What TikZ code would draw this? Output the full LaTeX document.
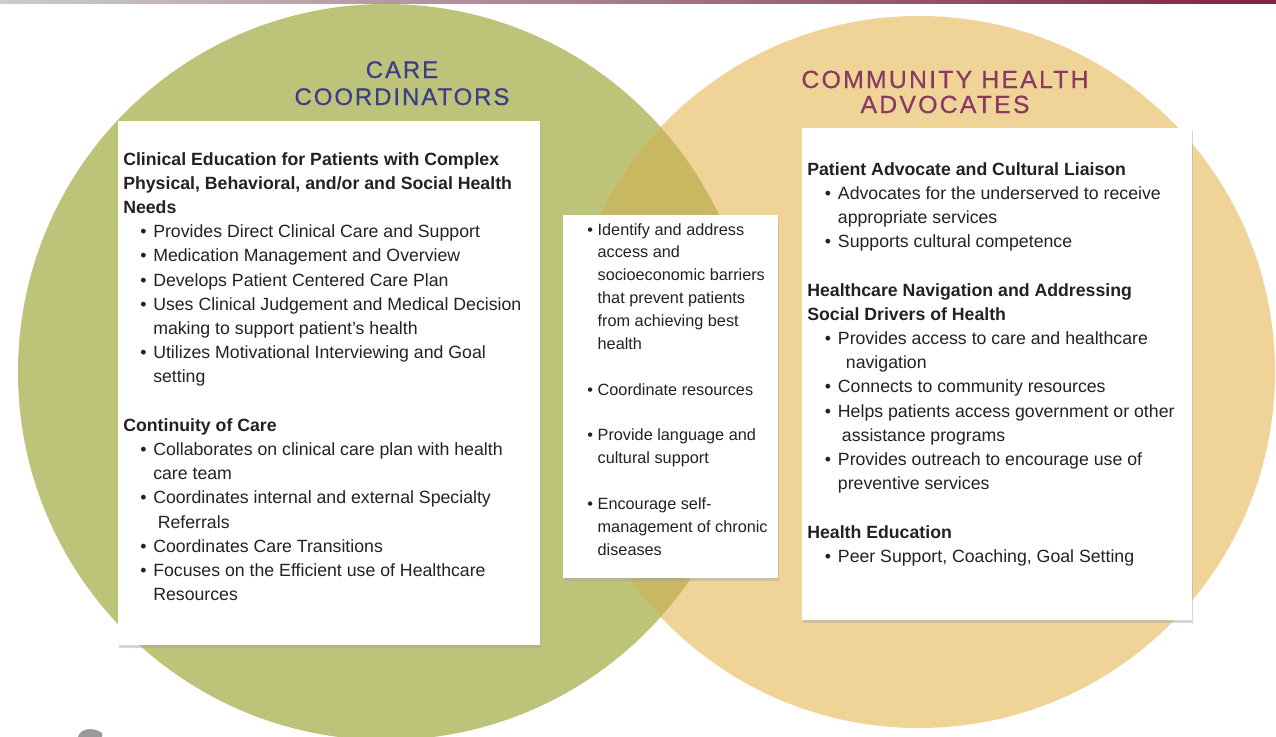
\documentclass[tikz,border=0pt]{standalone}
\usepackage{fontspec}
\setmainfont{Liberation Sans}
\newfontfamily\titlefontA{Liberation Sans}[LetterSpace=8,FakeBold=0.5]
\newfontfamily\titlefontB{Liberation Sans}[LetterSpace=9,FakeBold=0.5]
\definecolor{cgreen}{HTML}{BDC378}
\definecolor{corange}{HTML}{F0D396}
\definecolor{coverlap}{HTML}{C8B862}
\definecolor{tblue}{HTML}{3B3C8A}
\definecolor{tmaroon}{HTML}{8A3A62}
\definecolor{txt}{HTML}{222222}
\definecolor{topline}{HTML}{7F2343}
\newcommand\bodyfont{\fontsize{13.28pt}{18.15pt}\selectfont}
\newcommand\midfont{\fontsize{12.2pt}{17.15pt}\selectfont}
\newlength\bulind \newlength\txtind
\newcommand\bitem[1]{\par\hangindent=\txtind\hangafter=1\noindent\hspace*{\bulind}\makebox[\dimexpr\txtind-\bulind\relax][l]{\textbullet}#1\par}
\newcommand\hd[1]{\par\noindent\textbf{#1}\par}
\newcommand\gap{\par\vskip\baselineskip}
\tikzset{
  blk/.style={anchor=base west, inner sep=0pt, text=txt},
  ttl/.style={anchor=base, inner sep=0pt},
  shadowbox/.style={fill=black!35, opacity=0.45},
  whitebox/.style={fill=white}
}
\begin{document}
\begin{tikzpicture}[x=0.75pt,y=-0.75pt]
\path[use as bounding box] (0,0) rectangle (1276,736);
\begin{scope}
\clip (0,0) rectangle (1276,736);
\fill[white] (0,0) rectangle (1276,736);
% top line
\shade[left color=black!20, right color=topline] (0,0) rectangle (1276,3);
% circles
\fill[cgreen] (386,372) circle [radius=276pt];
\fill[corange] (919,372) circle [radius=267pt];
\begin{scope}
\clip (386,372) circle [radius=276pt];
\fill[coverlap] (919,372) circle [radius=267pt];
\end{scope}
% small grey shape bottom left
\fill[black!40] (78,737) .. controls (80,729) and (92,726) .. (102,733) -- (102,737) -- cycle;
% boxes
\fill[shadowbox] (119,123) rectangle (541,647.5);
\fill[whitebox] (118,121) rectangle (540,645);
\fill[shadowbox] (564,217) rectangle (779,580.5);
\fill[whitebox] (563,215) rectangle (778,578);
\fill[shadowbox] (803,130) rectangle (1193,622.5);
\fill[whitebox] (802,128) rectangle (1192,620);
\end{scope}
% titles
\node[ttl, text=tblue] (titleA) at (402,78) {\begin{minipage}[t]{300pt}\titlefontA\fontsize{18pt}{20.25pt}\selectfont\centering CARE\\COORDINATORS\end{minipage}};
\node[ttl, text=tmaroon] (titleB) at (945,88) {\begin{minipage}[t]{300pt}\titlefontB\fontsize{18.6pt}{18.75pt}\selectfont\centering COMMUNITY HEALTH\\ADVOCATES\end{minipage}};
% left block
\node[blk] (left) at (123,165) {\begin{minipage}[t]{330pt}\bodyfont\setlength\bulind{12.75pt}\setlength\txtind{22.5pt}%
\hd{Clinical Education for Patients with Complex\\Physical, Behavioral, and/or and Social Health\\Needs}
\bitem{Provides Direct Clinical Care and Support}
\bitem{Medication Management and Overview}
\bitem{Develops Patient Centered Care Plan}
\bitem{Uses Clinical Judgement and Medical Decision\\making to support patient's health}
\bitem{Utilizes Motivational Interviewing and Goal\\setting}
\gap
\hd{Continuity of Care}
\bitem{Collaborates on clinical care plan with health\\care team}
\bitem{Coordinates internal and external Specialty\\\hspace*{3.4pt}Referrals}
\bitem{Coordinates Care Transitions}
\bitem{Focuses on the Efficient use of Healthcare\\Resources}
\end{minipage}};
% middle block
\node[blk] (middle) at (587,235) {\begin{minipage}[t]{170pt}\midfont\setlength\bulind{0pt}\setlength\txtind{7.8pt}%
\bitem{Identify and address\\access and\\socioeconomic barriers\\that prevent patients\\from achieving best\\health}
\gap
\bitem{Coordinate resources}
\gap
\bitem{Provide language and\\cultural support}
\gap
\bitem{Encourage self-\\management of chronic\\diseases}
\end{minipage}};
% right block
\node[blk] (right) at (807,175) {\begin{minipage}[t]{300pt}\bodyfont\setlength\bulind{13.25pt}\setlength\txtind{23pt}%
\hd{Patient Advocate and Cultural Liaison}
\bitem{Advocates for the underserved to receive\\appropriate services}
\bitem{Supports cultural competence}
\gap
\hd{Healthcare Navigation and Addressing\\Social Drivers of Health}
\bitem{Provides access to care and healthcare\\\hspace*{6pt}navigation}
\bitem{Connects to community resources}
\bitem{Helps patients access government or other\\\hspace*{3pt}assistance programs}
\bitem{Provides outreach to encourage use of\\preventive services}
\gap
\hd{Health Education}
\bitem{Peer Support, Coaching, Goal Setting}
\end{minipage}};
\end{tikzpicture}
\end{document}
